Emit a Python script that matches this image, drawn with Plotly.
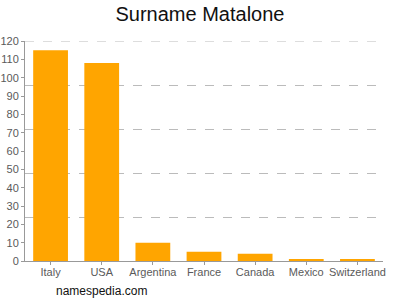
import plotly.graph_objects as go

countries = ["Italy", "USA", "Argentina", "France", "Canada", "Mexico", "Switzerland"]
counts = [115, 108, 10, 5, 4, 1, 1]
y_ticks = list(range(0, 121, 10))
grid_vals = [24, 48, 72, 96, 120]

fig = go.Figure()
fig.add_trace(go.Bar(x=countries, y=counts, marker_color="#FFA500",
                     marker_line_width=0, width=0.68))
fig.add_trace(go.Scatter(x=countries, y=[None]*len(countries), yaxis="y2",
                         showlegend=False, hoverinfo="skip"))

fig.update_layout(
    width=400, height=300,
    margin=dict(l=25, r=17, t=41, b=39),
    paper_bgcolor="white", plot_bgcolor="white",
    showlegend=False,
    font=dict(family="Liberation Sans, Arial, sans-serif", color="#555555", size=11),
    title=dict(text="Surname Matalone", x=0.5, xanchor="center", y=0.955, yanchor="middle",
               font=dict(size=20, color="#111111")),
    xaxis=dict(showline=True, linecolor="#999999", linewidth=1, ticks="outside",
               ticklen=3, tickcolor="#999999", showgrid=False, automargin=False,
               ticklabelstandoff=-2,
               tickfont=dict(size=11, color="#5a5a5a")),
    yaxis=dict(range=[0, 120], tickvals=y_ticks, showline=True, linecolor="#999999",
               linewidth=1, ticks="outside", ticklen=3, tickcolor="#999999", automargin=False,
               showgrid=False, zeroline=False, tickfont=dict(size=11, color="#5a5a5a")),
    yaxis2=dict(range=[0, 120], overlaying="y", tickvals=grid_vals, showticklabels=False,
                showgrid=True, gridcolor="#BBBBBB", griddash="dash", gridwidth=1,
                zeroline=False, showline=False, ticks="", automargin=False,
                layer="below traces"),
    annotations=[dict(text="namespedia.com", xref="paper", yref="paper",
                      x=(54 - 25) / 358, y=-0.135, xanchor="left", yanchor="middle",
                      showarrow=False, font=dict(size=12, color="#111111"))],
    shapes=[dict(type="line", xref="paper", yref="y2", x0=0, x1=1, y0=grid_vals[-1],
                 y1=grid_vals[-1], line=dict(color="#BBBBBB", width=1, dash="dash"),
                 layer="below")],
)

fig.write_html("out.html")
